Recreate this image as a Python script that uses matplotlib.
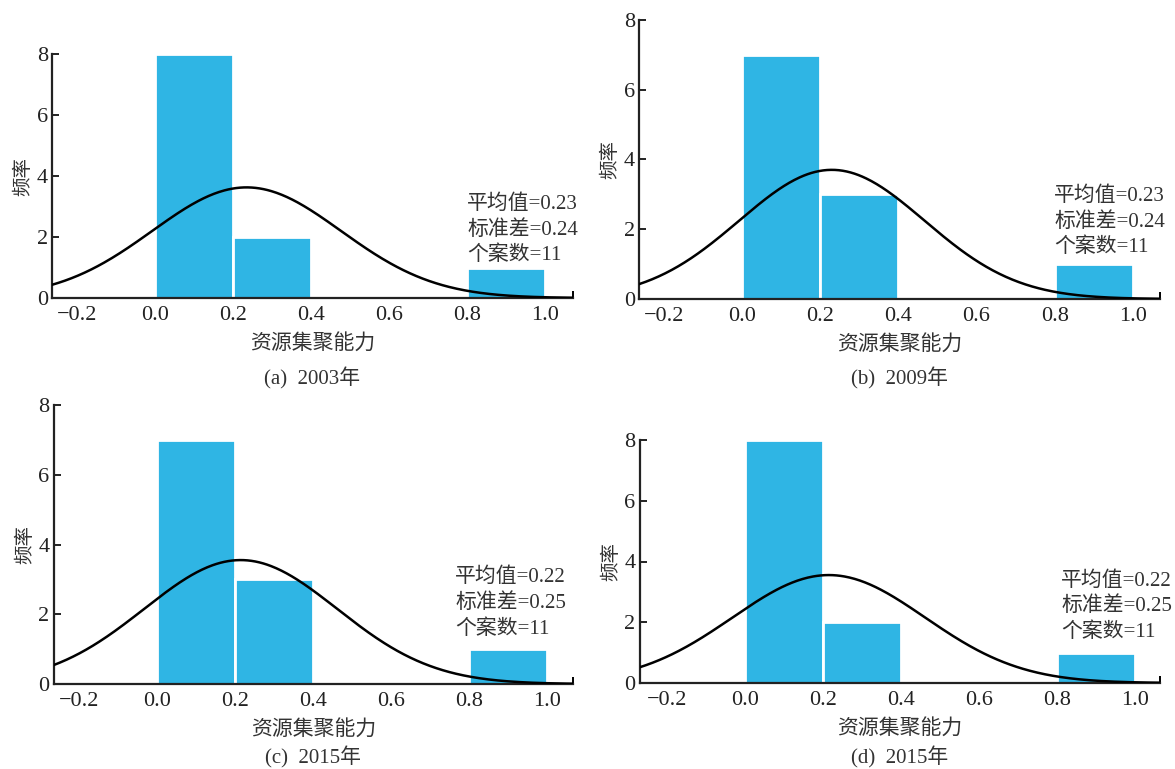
import numpy as np
import matplotlib
matplotlib.use("Agg")
import matplotlib.pyplot as plt

plt.rcParams['font.family'] = ['Liberation Serif', 'Noto Sans CJK SC', 'DejaVu Sans']
plt.rcParams['axes.unicode_minus'] = True

# --- data ---
bin_edges = [0.0, 0.2, 0.4, 0.6, 0.8, 1.0]
counts_a = [8, 2, 0, 0, 1]
counts_b = [7, 3, 0, 0, 1]
counts_c = [7, 3, 0, 0, 1]
counts_d = [8, 2, 0, 0, 1]

# fitted normal curves (mean, sd estimated from curve shape)
curve_means = [0.235, 0.23, 0.215, 0.215]
curve_sds = [0.242, 0.237, 0.247, 0.247]
n_cases = 11

stat_mean = ["0.23", "0.23", "0.22", "0.22"]
stat_sd = ["0.24", "0.24", "0.25", "0.25"]
captions = ["(a)  2003年", "(b)  2009年", "(c)  2015年", "(d)  2015年"]

xticks = [-0.2, 0.0, 0.2, 0.4, 0.6, 0.8, 1.0]
yticks = [0, 2, 4, 6, 8]
xlabel = "资源集聚能力"
ylabel = "频率"

W, H = 1175, 769
# axes boxes in pixels: left, right, top, bottom
boxes = [
    (52, 573, 54, 298),
    (639, 1160, 20, 299),
    (53.6, 573, 405, 684),
    (639.6, 1160, 440, 683),
]
xlims = [(-0.264, 1.072), (-0.263, 1.069), (-0.264, 1.066), (-0.27, 1.064)]
text_pos = [(0.797, 0.425), (0.797, 0.403), (0.773, 0.416), (0.81, 0.461)]
caption_y = [378, 378, 757, 757]

bar_color = "#2FB5E4"
text_color = "#333333"

fig = plt.figure(figsize=(W / 100, H / 100), dpi=100)

all_counts = [counts_a, counts_b, counts_c, counts_d]
for i, counts in enumerate(all_counts):
    l, r, t, b = boxes[i]
    ax = fig.add_axes([l / W, 1 - b / H, (r - l) / W, (b - t) / H])

    lefts = bin_edges[:-1]
    width = bin_edges[1] - bin_edges[0]
    ax.bar(lefts, counts, width=width, align='edge', color=bar_color,
           edgecolor='white', linewidth=2.0, zorder=2)

    xs = np.linspace(xlims[i][0], xlims[i][1], 400)
    mu, sd = curve_means[i], curve_sds[i]
    ys = n_cases * width * np.exp(-0.5 * ((xs - mu) / sd) ** 2) / (sd * np.sqrt(2 * np.pi))
    ax.plot(xs, ys, color='black', linewidth=1.8, zorder=3)

    ax.set_xlim(*xlims[i])
    ax.set_ylim(0, 8)
    ax.set_xticks(xticks)
    ax.set_xticklabels([f"{v:.1f}".replace("-", "\u2212") for v in xticks])
    ax.set_yticks(yticks)
    ax.set_xticks([xlims[i][1]], minor=True)

    for s in ['top', 'right']:
        ax.spines[s].set_visible(False)
    for s in ['left', 'bottom']:
        ax.spines[s].set_linewidth(1.6)
        ax.spines[s].set_color('#222222')

    ax.tick_params(axis='y', direction='in', length=5, width=1.4,
                   labelsize=16, pad=3, colors='#222222')
    ax.tick_params(axis='x', which='major', length=0, labelsize=16,
                   pad=6, colors='#222222')
    ax.tick_params(axis='x', which='minor', direction='in', length=5, width=1.4)

    ax.set_ylabel(ylabel, fontsize=14, color=text_color, labelpad=3)
    ax.set_xlabel(xlabel, fontsize=15, color=text_color, labelpad=7)

    ax.text(text_pos[i][0], text_pos[i][1],
            f"平均值={stat_mean[i]}\n标准差={stat_sd[i]}\n个案数={n_cases}",
            transform=ax.transAxes, fontsize=15, color=text_color,
            va='top', ha='left', linespacing=1.4)

    cx = (l + r) / 2 / W
    cy = 1 - caption_y[i] / H
    fig.text(cx, cy, captions[i], ha='center', va='center', fontsize=15,
             color=text_color)

fig.savefig("out.png", dpi=100)
